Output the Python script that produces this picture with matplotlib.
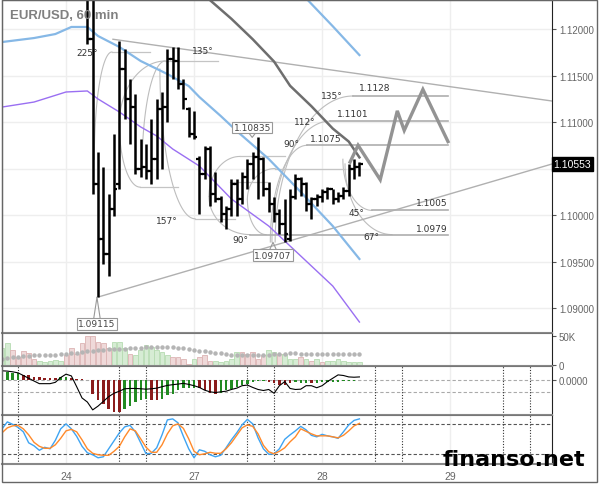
import numpy as np
import matplotlib
matplotlib.use("Agg")
import matplotlib.pyplot as plt
from matplotlib.patches import Rectangle
import matplotlib.transforms as mtrans

W, H = 600, 485

# hourly bars, index 0 = start of the 24th (24 bars per day on screen)
day_ticks = [0, 24, 48, 72]
day_labels = ["24", "27", "28", "29"]
first_bar = 4

opens = [1.1243, 1.1189, 1.1033, 1.0974, 1.0958, 1.1007, 1.1033, 1.1157, 1.1125, 1.1116,
         1.1050, 1.1052, 1.1047, 1.1060, 1.1114, 1.1116, 1.1168, 1.1166, 1.1141, 1.1114,
         1.1087, 1.1060, 1.1044, 1.1071, 1.1023, 1.1017, 1.1001, 1.1007, 1.1033, 1.1017,
         1.1041, 1.1055, 1.1062, 1.1060, 1.1028, 1.1012, 1.1001, 1.0990, 1.0974, 1.1019,
         1.1039, 1.1033, 1.1012, 1.1017, 1.1019, 1.1025, 1.1028, 1.1017, 1.1021, 1.1026,
         1.1050, 1.1052]
highs = [1.1265, 1.1254, 1.1068, 1.1052, 1.1023, 1.1087, 1.1187, 1.1179, 1.1146, 1.1130,
         1.1082, 1.1076, 1.1103, 1.1125, 1.1132, 1.1179, 1.1181, 1.1181, 1.1146, 1.1116,
         1.1112, 1.1064, 1.1074, 1.1074, 1.1046, 1.1021, 1.1010, 1.1039, 1.1039, 1.1046,
         1.1060, 1.1068, 1.10835, 1.1062, 1.1036, 1.1019, 1.1006, 1.1017, 1.1028, 1.1044,
         1.1041, 1.1036, 1.1019, 1.1023, 1.1028, 1.1030, 1.1028, 1.1025, 1.1030, 1.1055,
         1.1060, 1.1057]
lows = [1.1184, 1.1023, 1.09115, 1.0947, 1.0935, 1.0999, 1.1028, 1.1103, 1.1076, 1.1044,
        1.1041, 1.1039, 1.1033, 1.1039, 1.1050, 1.1100, 1.1146, 1.1136, 1.1114, 1.1084,
        1.1082, 1.1001, 1.1039, 1.1010, 1.1014, 1.0993, 1.0985, 1.0999, 1.0999, 1.1012,
        1.1028, 1.1039, 1.1017, 1.1021, 1.1003, 1.0993, 1.0980, 1.09707, 1.0972, 1.1017,
        1.1021, 1.1004, 1.0996, 1.1010, 1.1014, 1.1017, 1.1012, 1.1014, 1.1017, 1.1021,
        1.1039, 1.1042]
closes = [1.1189, 1.1033, 1.0974, 1.0958, 1.1007, 1.1028, 1.1157, 1.1125, 1.1116, 1.1050,
          1.1052, 1.1047, 1.1060, 1.1114, 1.1116, 1.1168, 1.1166, 1.1141, 1.1125, 1.1087,
          1.1084, 1.1044, 1.1071, 1.1023, 1.1017, 1.1001, 1.1007, 1.1033, 1.1017, 1.1041,
          1.1055, 1.1062, 1.1060, 1.1028, 1.1012, 1.1001, 1.0990, 1.0980, 1.1019, 1.1039,
          1.1033, 1.1012, 1.1017, 1.1019, 1.1025, 1.1028, 1.1017, 1.1021, 1.1026, 1.1050,
          1.1052, 1.10553]
last_price = 1.10553

# moving averages / bands
blue_x = [-12, -6, -2, 1, 4, 6, 10, 14, 19, 23, 25, 29, 32, 38, 44, 50, 55]
blue_y = [1.11860, 1.11903, 1.11946, 1.12022, 1.12022, 1.11925, 1.11807, 1.11656, 1.11516,
          1.11387, 1.11269, 1.11065, 1.10904, 1.10603, 1.10248, 1.09882, 1.09528]
blue2_x = [45, 50, 55]
blue2_y = [1.1233, 1.1203, 1.1172]
purple_x = [-12, -6, 0, 4, 6, 10, 14, 17, 20, 25, 31, 38, 44, 50, 55]
purple_y = [1.11161, 1.11215, 1.11323, 1.11334, 1.11248, 1.11108, 1.10947, 1.1085, 1.1071,
            1.10527, 1.10173, 1.09882, 1.09560, 1.09237, 1.08850]
dark_x = [26, 31, 35, 39, 42, 46, 50, 53, 55]
dark_y = [1.1236, 1.1211, 1.1189, 1.1165, 1.1139, 1.1117, 1.1093, 1.1079, 1.1062]

# forecast path
fc_x = [53.25, 54.75, 58.9, 62.1, 63.4, 66.9, 71.6]
fc_y = [1.1057, 1.1075, 1.1038, 1.1112, 1.1091, 1.1135, 1.1079]

# triangle lines
tri_upper = [(8.8, 1.1189), (91.1, 1.11226)]
tri_lower = [(5.8, 1.09115), (91.1, 1.10549)]

# arcs: (x at horizontal tangent, price there, x at vertical tangent, price there)
arcs = [(8.6, 1.11753, 5.3, 1.1060), (18.6, 1.11656, 10.0, 1.1098), (13.9, 1.1030, 10.0, 1.1098),
        (18.6, 1.11656, 14.25, 1.1050), (24.2, 1.0996, 17.6, 1.1157),
        (32.6, 1.1063, 26.8, 1.1020), (34.5, 1.0979, 26.8, 1.1020),
        (39.2, 1.1050, 34.0, 1.1017), (37.5, 1.0979, 34.0, 1.1017),
        (45.2, 1.1075, 38.3, 1.0971), (49.5, 1.1101, 38.6, 1.0971), (53.8, 1.1128, 39.2, 1.0971),
        (57.4, 1.1005, 51.9, 1.1060), (61.1, 1.0979, 52.3, 1.1055)]
levels = [(45.2, 71.6, 1.1075), (49.5, 71.6, 1.1101), (53.8, 71.6, 1.1128),
          (57.4, 71.6, 1.1005), (34.5, 71.6, 1.0979)]
thin_levels = [(8.6, 15.75, 1.11753), (18.6, 28.5, 1.11656), (13.9, 21.0, 1.1030),
               (24.2, 31.7, 1.0996), (32.6, 41.0, 1.1063), (39.2, 52.3, 1.1050),
               (30.75, 37.7, 1.10355)]
arc_labels = [(3.9, 1.1175, "225°", "center"), (25.7, 1.1177, "135°", "center"),
              (18.9, 1.0994, "157°", "center"), (32.6, 1.0974, "90°", "center"),
              (42.2, 1.1077, "90°", "center"), (44.8, 1.1101, "112°", "center"),
              (49.9, 1.1129, "135°", "center"), (48.75, 1.1082, "1.1075", "center"),
              (53.8, 1.1109, "1.1101", "center"), (57.9, 1.1137, "1.1128", "center"),
              (54.4, 1.1003, "45°", "center"), (57.2, 1.0977, "67°", "center"),
              (71.6, 1.1013, "1.1005", "right"), (71.6, 1.0986, "1.0979", "right")]
box_labels = [(34.9, 1.1094, 1.10835, "1.10835"), (38.8, 1.0957, 1.09707, "1.09707"),
              (5.8, 1.0883, 1.09115, "1.09115")]

# lower panels, one value per bar from index -12 to 55
vol_k = [28.6, 37.5, 25.6, 13.7, 23.8, 21.4, 10.7, 7.7, 6.0, 7.7, 8.9, 7.7, 16.7, 28.6, 19.6,
         37.5, 49.4, 49.4, 40.5, 37.5, 28.6, 40.5, 40.5, 28.6, 19.6, 16.7, 25.6, 34.5, 31.5,
         25.6, 22.6, 16.7, 13.7, 13.7, 10.7, 1.8, 10.7, 13.7, 16.7, 7.7, 7.7, 6.0, 7.7, 10.7,
         22.6, 22.6, 19.6, 22.6, 10.7, 16.7, 25.6, 22.6, 19.6, 19.6, 10.7, 10.7, 13.7, 10.7,
         7.7, 10.7, 4.8, 7.7, 7.7, 10.7, 7.7, 4.8, 6.0, 4.8]
vol_col = "ggpppppgggggpppppppppgggpgggggggppppgpppgggggpppppggpgggpgpgpggggggg"
vol_ma = [10.7, 11.9, 13.1, 13.7, 14.9, 15.5, 16.7, 16.7, 17.3, 17.9, 17.9, 18.5, 19.0, 20.2,
          21.4, 22.6, 23.8, 25.0, 26.2, 26.8, 27.4, 27.4, 27.4, 28.0, 28.6, 29.2, 29.8, 30.4,
          31.0, 31.5, 31.5, 31.5, 31.0, 29.8, 28.6, 27.4, 26.2, 25.0, 23.8, 22.6, 21.4, 20.2,
          19.0, 17.9, 17.9, 17.3, 16.7, 16.7, 16.7, 17.3, 17.9, 18.5, 19.0, 19.6, 20.2, 20.2,
          19.6, 19.6, 19.6, 19.6, 19.6, 19.6, 19.6, 19.6, 19.6, 19.6, 19.6, 19.6]
macd_hist = [0.0008, 0.0008, 0.00075, 0.0007, 0.00053, 0.00053, 0.0003, 0.0003, 0.00027, 0.0002,
             0.0002, 0.00037, 0.00037, 0.0002, 0.00015, 0.0001, 0.00003, -0.0013, -0.00197,
             -0.0023, -0.0028, -0.00313, -0.00313, -0.0028, -0.00247, -0.00213, -0.00197,
             -0.00187, -0.00197, -0.00197, -0.00187, -0.00147, -0.0013, -0.00097, -0.0008,
             -0.00073, -0.0008, -0.0008, -0.00097, -0.0012, -0.0013, -0.0012, -0.00097, -0.0009,
             -0.00063, -0.00047, -0.0004, -0.00013, -0.00003, -0.00007, -0.00013, -0.0003,
             -0.00047, -0.00047, -0.0003, -0.00013, -0.0003, -0.0003, -0.0003, -0.00027,
             -0.0002, -0.0002, -0.00017, -0.00013, -0.0001, -0.00005, -0.00003, -0.00002]
macd_col = "ggggrrrrrrrggrrrrrrrrrrgggggrrgggggggrrrrgggggggggrrrrrgggrggggggggg"
macd_line = [0.00093, 0.00090, 0.00083, 0.00073, 0.00047, 0.00020, -0.00007, -0.00033, -0.00033,
             -0.00033, -0.00020, 0.00027, 0.00060, 0.00043, -0.00063, -0.00173, -0.00213,
             -0.00290, -0.00253, -0.00207, -0.00160, -0.00127, -0.00107, -0.00083, -0.00080,
             -0.00080, -0.00083, -0.00087, -0.00083, -0.00077, -0.00063, -0.00050, -0.00043,
             -0.00037, -0.00030, -0.00040, -0.00053, -0.00070, -0.00097, -0.00113, -0.00120,
             -0.00113, -0.00107, -0.00090, -0.00077, -0.00053, -0.00047, -0.00070, -0.00090,
             -0.00100, -0.00090, -0.00127, -0.00053, -0.00013, -0.00080, -0.00090, -0.00087,
             -0.00053, -0.00053, -0.00073, -0.00053, -0.00013, 0.00020, 0.00053, 0.00047, 0.00033,
             0.00030, 0.00033]
stoch_k = [70, 84, 79, 73, 64, 42, 36, 27, 33, 30, 47, 70, 80, 70, 55, 35, 22, 18, 12, 14, 30,
           46, 62, 74, 77, 64, 42, 20, 21, 32, 58, 88, 90, 82, 55, 30, 12, 28, 25, 18, 14, 17,
           32, 48, 62, 78, 89, 80, 52, 30, 19, 20, 30, 49, 58, 66, 75, 68, 57, 54, 59, 56, 54,
           51, 64, 78, 87, 90]
stoch_d = [62, 72, 76, 77, 70, 58, 43, 35, 31, 31, 38, 51, 66, 69, 64, 48, 30, 21, 18, 17, 17,
           25, 35, 54, 70, 66, 50, 33, 23, 23, 38, 60, 76, 80, 71, 50, 25, 18, 20, 23, 21, 21,
           30, 42, 57, 72, 78, 75, 60, 37, 24, 20, 25, 32, 44, 54, 70, 65, 60, 56, 56, 56, 54,
           52, 57, 66, 76, 81]
session_lines = [-9, 10, 15, 34, 39, 58, 63, 82, 87]

assert len(vol_col) == 68 and len(macd_col) == 68 and len(macd_line) >= 68

xi = np.arange(-12, 56)
bx = np.arange(first_bar, first_bar + len(opens))

fig = plt.figure(figsize=(6, 4.85), dpi=100)


def box(l, t, r, b):
    return [l / W, 1 - b / H, (r - l) / W, (b - t) / H]


XMIN, XMAX = -12.0, 91.1
ax = fig.add_axes(box(2, 1, 552, 334))
axv = fig.add_axes(box(2, 334, 552, 367))
axm = fig.add_axes(box(2, 367, 552, 416))
axs = fig.add_axes(box(2, 416, 552, 465))

for a in (ax, axv, axm, axs):
    a.set_xlim(XMIN, XMAX)
    a.set_facecolor("white")
    for s in ("left", "top"):
        a.spines[s].set_color("#777777")
    a.spines["right"].set_color("#222222")
    a.spines["bottom"].set_color("#888888")
    a.spines["bottom"].set_linewidth(1.5)
    a.yaxis.tick_right()
    a.tick_params(axis="y", length=3, width=0.8, color="#555555", pad=2,
                  labelsize=7, labelcolor="#666666")
    a.tick_params(axis="x", length=0)
    a.set_xticks(day_ticks)
    a.set_xticklabels([])
    for t in day_ticks:
        a.axvline(t, color="#eeeeee", lw=1, zorder=0)

# ---------------- main price panel
ax.set_ylim(1.08732, 1.12312)
ax.set_yticks([1.09, 1.095, 1.10, 1.11, 1.115, 1.12])
ax.set_yticklabels(["1.09000", "1.09500", "1.10000", "1.11000", "1.11500", "1.12000"],
                   family="Liberation Sans")
for p in np.arange(1.09, 1.1226, 0.005):
    ax.axhline(p, color="#eeeeee", lw=1, zorder=0)

t = np.linspace(0, np.pi / 2, 50)
for xh, yh, xv, yv in arcs:
    ax.plot(xh + (xv - xh) * np.sin(t), yv + (yh - yv) * np.cos(t), color="#bdbdbd", lw=0.8, zorder=1)
for x0, x1, p in thin_levels:
    ax.plot([x0, x1], [p, p], color="#c4c4c4", lw=0.9, zorder=1)
for x0, x1, p in levels:
    ax.plot([x0, x1], [p, p], color="#aeaeae", lw=1.2, zorder=1)

ax.plot(*zip(*tri_upper), color="#b0b0b0", lw=1, zorder=2)
ax.plot(*zip(*tri_lower), color="#b0b0b0", lw=1, zorder=2)

ax.plot(blue_x, blue_y, color="#86b8e6", lw=1.6, zorder=2)
ax.plot(blue2_x, blue2_y, color="#86b8e6", lw=1.6, zorder=2)
ax.plot(purple_x, purple_y, color="#9a6ff2", lw=1.0, zorder=2)
ax.plot(dark_x, dark_y, color="#6e6e6e", lw=1.8, zorder=3)
ax.plot(fc_x, fc_y, color="#939393", lw=2.4, zorder=3, solid_joinstyle="miter")

ax.vlines(bx, lows, highs, color="black", lw=1.8, zorder=4)
ax.hlines(opens, bx - 0.6, bx, color="black", lw=1.6, zorder=4)
ax.hlines(closes, bx, bx + 0.6, color="black", lw=1.6, zorder=4)

for x, y, s, ha in arc_labels:
    ax.text(x, y, s, ha=ha, va="center", fontsize=6.5, color="#333333", zorder=5)
for x, y, tip, s in box_labels:
    ax.text(x, y, s, ha="center", va="center", fontsize=6.5, color="#444444", zorder=6,
            bbox=dict(boxstyle="square,pad=0.15", fc="white", ec="#999999", lw=0.8))
    edge = y + (0.0006 if tip > y else -0.0006)
    ax.plot([x - 0.6, x, x + 0.6], [edge, tip, edge], color="#999999", lw=0.8, zorder=5)

trans = mtrans.blended_transform_factory(ax.transAxes, ax.transData)
ax.text(1.003, last_price, "1.10553", transform=trans, ha="left", va="center", fontsize=7.5,
        family="Liberation Sans", color="white", zorder=7, clip_on=False,
        bbox=dict(boxstyle="square,pad=0.2", fc="black", ec="black"))

ax.text(0.015, 0.955, "EUR/USD, 60 min", transform=ax.transAxes, ha="left", va="center",
        family="Liberation Sans", fontsize=9.5, weight="bold", color="#808080", zorder=10)

# ---------------- volume
axv.set_ylim(-1.8, 55.4)
vcolors = ["#d6ecd4" if c == "g" else "#efd9d9" for c in vol_col]
vedges = ["#b6dbb2" if c == "g" else "#dcb4b4" for c in vol_col]
axv.bar(xi, vol_k, width=0.9, color=vcolors, edgecolor=vedges, lw=0.6, zorder=2)
axv.plot(xi, vol_ma, ls="none", marker="o", ms=2.2, color="#b5b5b5", zorder=3)
axv.set_yticks([0, 50])
axv.set_yticklabels(["0", "50K"], family="Liberation Sans")

# ---------------- MACD
axm.set_ylim(-0.0034, 0.0014)
mcolors = ["#228b22" if c == "g" else "#8b1c1c" for c in macd_col]
axm.bar(xi, macd_hist, width=0.45, color=mcolors, zorder=2)
axm.plot(xi, macd_line[:68], color="black", lw=0.8, zorder=3)
axm.axhline(0, color="#aaaaaa", lw=0.8, ls=(0, (3, 2)), zorder=1)
axm.axhline(-0.0011, color="#aaaaaa", lw=0.8, ls=(0, (3, 2)), zorder=1)
axm.set_yticks([0])
axm.set_yticklabels(["0.0000"], family="Liberation Sans")

# ---------------- stochastic
axs.set_ylim(-0.5, 97.8)
axs.plot(xi, stoch_k, color="#3fa4f2", lw=1.0, zorder=3)
axs.plot(xi, stoch_d, color="#ff8a2b", lw=1.0, zorder=3)
for lvl in (80, 20):
    axs.axhline(lvl, color="#555555", lw=0.8, ls=(0, (3, 2)), zorder=1)
axs.set_yticks([])
axs.set_xticklabels(day_labels, family="Liberation Sans", fontsize=7.5, color="#666666")
axs.tick_params(axis="x", pad=5)

for a in (axm, axs):
    for s in session_lines:
        a.axvline(s, color="#333333", lw=0.8, ls=(0, (1, 1.5)), zorder=1)

fig.patches.append(Rectangle((2 / W, 1 - 483 / H), 595 / W, 482 / H, transform=fig.transFigure,
                             fill=False, ec="#666666", lw=1))

fig.text(443 / W, 1 - 466 / H, "finanso.net", fontsize=16, weight="bold", color="black",
         ha="left", va="baseline")

fig.savefig("out.png", dpi=100)
